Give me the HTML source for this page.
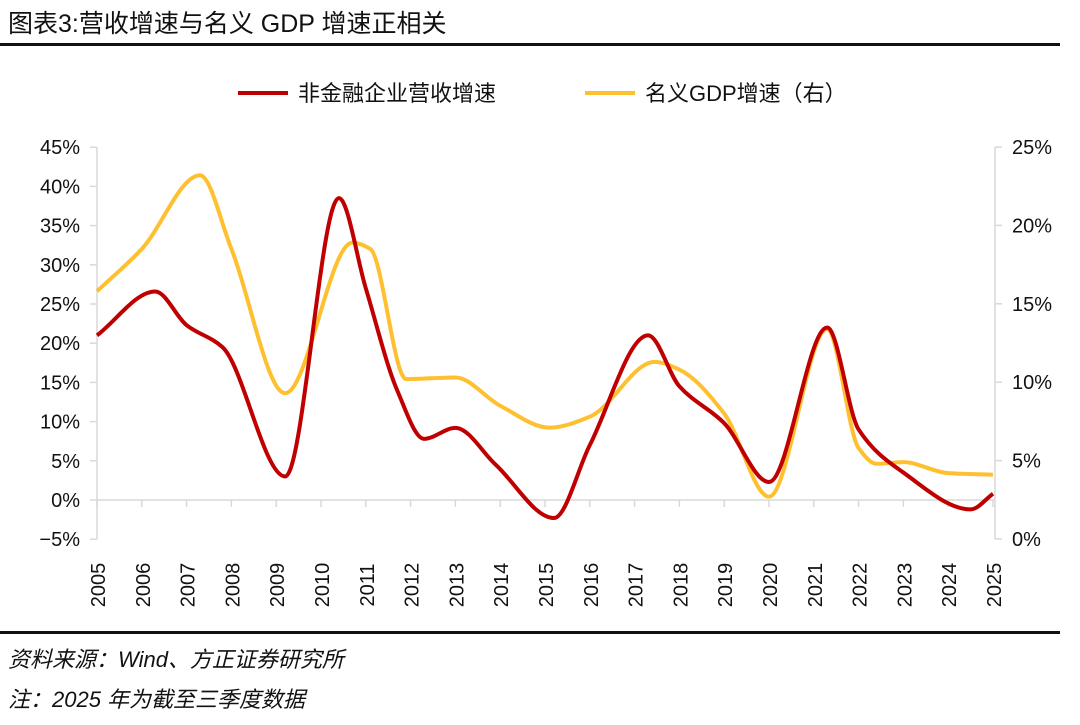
<!DOCTYPE html>
<html><head><meta charset="utf-8">
<style>
body{margin:0;width:1080px;height:720px;background:#fff;overflow:hidden;font-family:"Liberation Sans","Noto Sans CJK SC",sans-serif;}
svg text{font-family:"Liberation Sans","Noto Sans CJK SC",sans-serif;}
</style></head>
<body>
<svg id="chart" width="1080" height="720">
<text x="8" y="32" font-size="25" fill="#111">图表3:营收增速与名义 GDP 增速正相关</text>
<rect x="0" y="43" width="1060" height="3" fill="#111"/>
<g>
<line x1="238" y1="93" x2="288" y2="93" stroke="#C00000" stroke-width="4"/>
<text x="298" y="101" font-size="22" fill="#111">非金融企业营收增速</text>
<line x1="585" y1="93" x2="635" y2="93" stroke="#FFC030" stroke-width="4"/>
<text x="645" y="101" font-size="22" fill="#111">名义GDP增速（右）</text>
</g>
<g id="axes"></g>
<g id="series"></g>
<rect x="0" y="631" width="1060" height="3" fill="#111"/>
<text x="8" y="667" font-size="22" font-style="italic" fill="#111">资料来源：Wind、方正证券研究所</text>
<text x="8" y="707" font-size="22" font-style="italic" fill="#111">注：2025 年为截至三季度数据</text>
</svg>
<script>
const years=[2005,2006,2007,2008,2009,2010,2011,2012,2013,2014,2015,2016,2017,2018,2019,2020,2021,2022,2023,2024,2025];
const leftTicks=[-5,0,5,10,15,20,25,30,35,40,45];
const rightTicks=[0,5,10,15,20,25];
const revX=[2005,2006.3,2007,2007.8,2009.2,2010.4,2011,2011.7,2012.3,2013,2013.9,2015.2,2016,2017.3,2018,2019,2020,2021.3,2022,2023,2024.5,2025];
const revY=[21,26.6,22.3,19.5,3,38.5,27,14,7.8,9.2,4.5,-2.3,7,21,14.5,9.8,2.3,22,9,3.5,-1.2,0.8];
const gdpX=[2005,2006,2007.3,2008,2009.2,2010.7,2011.1,2011.9,2013,2014,2015.1,2016,2017.45,2018,2019,2020,2021.3,2022,2022.4,2023,2024,2025];
const gdpY=[15.8,18.5,23.2,18.5,9.3,18.9,18.5,10.2,10.3,8.5,7.1,7.8,11.3,10.8,8,2.7,13.4,5.8,4.8,4.9,4.2,4.1];
const X=y=>97+(y-2005)*44.8;
const YL=v=>500-v*7.84;
const YR=v=>539-v*15.68;
const NS='http://www.w3.org/2000/svg';
const axes=document.getElementById('axes'),series=document.getElementById('series');
function mk(t,a,p){const e=document.createElementNS(NS,t);for(const k in a)e.setAttribute(k,a[k]);p.appendChild(e);return e;}
let e;
e=mk('line',{x1:97,y1:YL(45),x2:97,y2:YL(-5),stroke:'#d9d9d9','stroke-width':1.5},axes);


e=mk('line',{x1:995,y1:YR(25),x2:995,y2:YR(0),stroke:'#d9d9d9','stroke-width':1.5},axes);


e=mk('line',{x1:97,y1:YL(0),x2:995,y2:YL(0),stroke:'#d9d9d9','stroke-width':1.5},axes);


leftTicks.forEach(v=>{
 mk('line',{x1:90,y1:YL(v),x2:97,y2:YL(v),stroke:'#d9d9d9','stroke-width':1.5},axes);
 e=mk('text',{x:80,y:YL(v)+7,'font-size':20,'text-anchor':'end',fill:'#111'},axes);
 e.textContent=(v<0?'−'+(-v):v)+'%';
 
 
});
rightTicks.forEach(v=>{
 mk('line',{x1:995,y1:YR(v),x2:1002,y2:YR(v),stroke:'#d9d9d9','stroke-width':1.5},axes);
 e=mk('text',{x:1012,y:YR(v)+7,'font-size':20,fill:'#111'},axes);
 e.textContent=v+'%';
 
 
});
years.forEach(y=>{
 mk('line',{x1:X(y),y1:YL(0),x2:X(y),y2:YL(0)+7,stroke:'#d9d9d9','stroke-width':1.5},axes);
 e=mk('text',{x:0,y:0,'font-size':20,'text-anchor':'middle',fill:'#111',transform:`translate(${X(y)+8},585) rotate(-90)`},axes);
 e.textContent=y;
 
 
});
function path(xs,ys,fy){
 const p=xs.map((x,i)=>[X(x),fy(ys[i])]);
 const n=p.length,dl=[],m=[];
 for(let i=0;i<n-1;i++)dl.push((p[i+1][1]-p[i][1])/(p[i+1][0]-p[i][0]));
 m[0]=dl[0];m[n-1]=dl[n-2];
 for(let i=1;i<n-1;i++){
  if(dl[i-1]*dl[i]<=0)m[i]=0;
  else{const h0=p[i][0]-p[i-1][0],h1=p[i+1][0]-p[i][0];const w1=2*h1+h0,w2=h1+2*h0;m[i]=(w1+w2)/(w1/dl[i-1]+w2/dl[i]);}
 }
 let d='M'+p[0][0]+','+p[0][1];
 for(let i=0;i<n-1;i++){
  const h=(p[i+1][0]-p[i][0])/3;
  d+=` C${p[i][0]+h},${p[i][1]+m[i]*h} ${p[i+1][0]-h},${p[i+1][1]-m[i+1]*h} ${p[i+1][0]},${p[i+1][1]}`;
 }
 return d;
}
e=mk('path',{d:path(gdpX,gdpY,YR),fill:'none',stroke:'#FFC030','stroke-width':4},series);


e=mk('path',{d:path(revX,revY,YL),fill:'none',stroke:'#C00000','stroke-width':4},series);


</script>
</body></html>
